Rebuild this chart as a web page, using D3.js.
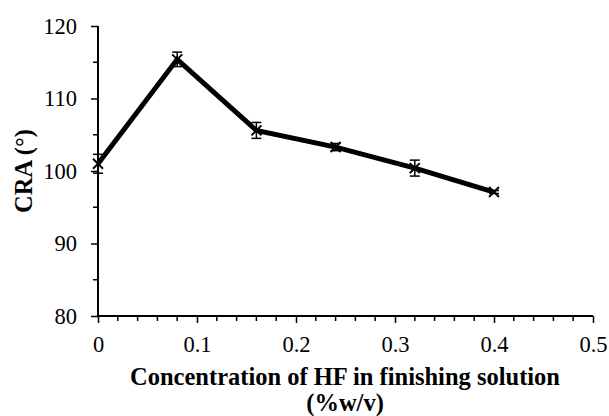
<!DOCTYPE html>
<html><head><meta charset="utf-8">
<script src="https://cdn.jsdelivr.net/npm/d3@7"></script>
<style>body{margin:0;background:#fff}svg{display:block}text{font-family:"Liberation Serif","Times New Roman","DejaVu Serif",serif}</style>
</head><body>
<script>
const concentrations = [0, 0.08, 0.16, 0.24, 0.32, 0.4];
const craValues = [101.0, 115.4, 105.6, 103.3, 100.4, 97.1];
const craErrors = [1.3, 1.0, 1.1, 0.5, 1.1, 0.2];
const xTicks = [0, 0.1, 0.2, 0.3, 0.4, 0.5];
const yTicks = [80, 90, 100, 110, 120];

const W = 609, H = 416;
const svg = d3.select("body").append("svg").attr("width", W).attr("height", H);
const font = '"Liberation Serif","Times New Roman","DejaVu Serif",serif';
const x = d3.scaleLinear().domain([0, 0.5]).range([98, 593]);
const y = d3.scaleLinear().domain([80, 120]).range([316, 26]);

const xMinor = d3.range(0, 0.5001, 0.02).filter(v => Math.abs(v*10 - Math.round(v*10)) > 1e-6);
svg.append("g").selectAll("line").data(xMinor).join("line")
  .attr("x1", d => x(d)).attr("x2", d => x(d)).attr("y1", 316).attr("y2", 321)
  .attr("stroke", "#000").attr("stroke-width", 1.5);
const yMinor = [85, 95, 105, 115];
svg.append("g").selectAll("line").data(yMinor).join("line")
  .attr("x1", 93).attr("x2", 98).attr("y1", d => y(d)).attr("y2", d => y(d))
  .attr("stroke", "#000").attr("stroke-width", 1.5);

const xAxis = svg.append("g").attr("transform", "translate(0,316)")
  .call(d3.axisBottom(x).tickValues(xTicks).tickFormat(d => d === 0 ? "0" : d3.format(".1f")(d)).tickSizeOuter(0).tickSizeInner(7).tickPadding(13));
const yAxis = svg.append("g").attr("transform", "translate(98,0)")
  .call(d3.axisLeft(y).tickValues(yTicks).tickSizeOuter(0).tickSizeInner(7).tickPadding(14));
[xAxis, yAxis].forEach(g => {
  g.attr("font-family", null).attr("font-size", null);
  g.select(".domain").attr("stroke", "#000").attr("stroke-width", 2);
  g.selectAll(".tick line").attr("stroke", "#000").attr("stroke-width", 1.5);
  g.selectAll("text").style("font-family", font).style("font-size", "22.5px").attr("fill", "#000");
});
xAxis.select(".domain").attr("d", "M98,0H593");
yAxis.select(".domain").attr("d", "M0,26V316");

const data = concentrations.map((c, i) => ({c, v: craValues[i], e: craErrors[i]}));

svg.append("path").datum(data)
  .attr("d", d3.line().x(d => x(d.c)).y(d => y(d.v)))
  .attr("fill", "none").attr("stroke", "#000").attr("stroke-width", 5).attr("stroke-linejoin", "miter");

const eb = svg.append("g").attr("stroke", "#000").attr("stroke-width", 1.5);
data.forEach(d => {
  const cx = x(d.c);
  eb.append("line").attr("x1", cx).attr("x2", cx).attr("y1", y(d.v + d.e)).attr("y2", y(d.v - d.e));
  eb.append("line").attr("x1", cx - 5).attr("x2", cx + 5).attr("y1", y(d.v + d.e)).attr("y2", y(d.v + d.e));
  eb.append("line").attr("x1", cx - 5).attr("x2", cx + 5).attr("y1", y(d.v - d.e)).attr("y2", y(d.v - d.e));
});

const mk = svg.append("g").attr("stroke", "#000").attr("stroke-width", 2);
data.forEach(d => {
  const cx = x(d.c), cy = y(d.v), s = 5;
  mk.append("line").attr("x1", cx - s).attr("y1", cy - s).attr("x2", cx + s).attr("y2", cy + s);
  mk.append("line").attr("x1", cx - s).attr("y1", cy + s).attr("x2", cx + s).attr("y2", cy - s);
});

const labels = [
  {t: "Concentration of HF in finishing solution", tr: "translate(345,385)"},
  {t: "(%w/v)", tr: "translate(345,411)"},
  {t: "CRA (°)", tr: "translate(32,171) rotate(-90)"}
];
svg.selectAll("text.lab").data(labels).join("text").attr("class", "lab")
  .attr("transform", d => d.tr).attr("text-anchor", "middle")
  .style("font-family", font).style("font-weight", "bold").style("font-size", "24.5px")
  .text(d => d.t);
</script>
</body></html>
